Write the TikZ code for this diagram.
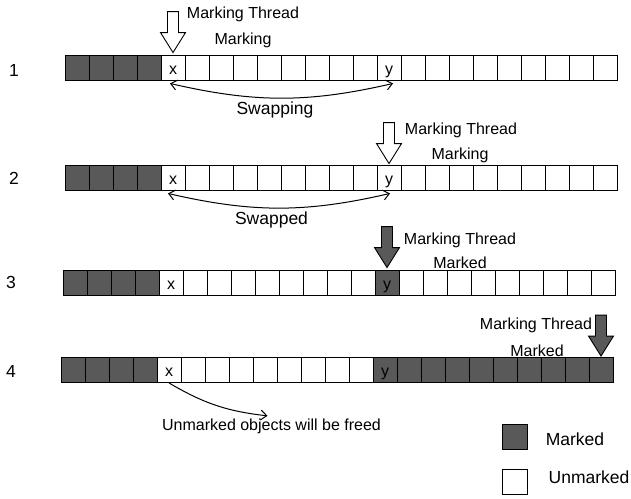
\documentclass[tikz,border=0pt]{standalone}
\usepackage{fontspec}
\setmainfont{Liberation Sans}
\usetikzlibrary{arrows.meta, positioning}
\definecolor{markgray}{RGB}{89, 89, 89}

\begin{document}
\begin{tikzpicture}[x=1pt, y=-1pt,
  cell/.style={draw=black, line width=0.9pt, minimum width=24pt, minimum height=25pt, inner sep=0pt},
  note/.style={font=\fontsize{16}{19}\selectfont, inner sep=0pt},
  big/.style={font=\fontsize{17.5}{21}\selectfont, inner sep=0pt},
  swap/.style={{Straight Barb[length=6pt,width=10pt]}-{Straight Barb[length=6pt,width=10pt]}, line width=1pt},
  pics/thread/.style={code={
    \draw[line width=0.9pt, fill=#1] (0,0) -- (-12.5,-20) -- (-5.5,-20) -- (-5.5,-41) -- (5.5,-41) -- (5.5,-20) -- (12.5,-20) -- cycle;
  }}]
  \useasboundingbox (0,0) rectangle (631,498);

  % The four heap rows
  \foreach \rw/\xo/\yc in {1/65/67.5, 2/65/177.5, 3/63/282.5, 4/61/370}
    \foreach \k in {0,...,22} {
      \pgfmathtruncatemacro\ism{(\k<4) || (\rw==3 && \k==13) || (\rw==4 && \k>12)}
      \ifnum\ism=1 \def\cellfill{markgray}\else\def\cellfill{white}\fi
      \node[cell, fill=\cellfill] (c\rw-\k) at ({\xo+24*\k+12}, \yc) {};
    }
  \foreach \rw in {1,...,4} {
    \node[note, anchor=base] (x\rw) at ([yshift=-6.5pt]c\rw-4.center) {x};
    \node[note, anchor=base] (y\rw) at ([yshift=-6.5pt]c\rw-13.center) {y};
  }

  % Row numbers
  \node[big] (n1) at (14, 70) {1};
  \node[big] (n2) at (14, 178.5) {2};
  \node[big] (n3) at (11, 282.5) {3};
  \node[big] (n4) at (11, 371.5) {4};

  % Marking thread
  \pic at ([yshift=2pt]c1-4.north) {thread=white};
  \pic at ([yshift=1pt]c2-13.north) {thread=white};
  \pic at ([yshift=2pt]c3-13.north) {thread=markgray};
  \pic at ([yshift=1pt]c4-22.north) {thread=markgray};
  \node[note] (thr1) at (243, 14) {Marking Thread};
  \node[note] (st1) at (243, 40.5) {Marking};
  \node[note] (thr2) at (461, 130) {Marking Thread};
  \node[note] (st2) at (460, 155) {Marking};
  \node[note] (thr3) at (460, 240) {Marking Thread};
  \node[note] (st3) at (460, 263) {Marked};
  \node[note] (thr4) at (536, 325) {Marking Thread};
  \node[note] (st4) at (537, 351) {Marked};

  % Swapping x and y
  \draw[swap] ([shift={(-3pt,-3pt)}]c1-4.south) to[bend right=13] ([shift={(4pt,-3pt)}]c1-13.south);
  \node[big] (swp) at (275, 110) {Swapping};
  \draw[swap] ([shift={(-5pt,-3pt)}]c2-4.south) to[bend right=13] ([shift={(1pt,-3pt)}]c2-13.south);
  \node[big] (swd) at (271.5, 219.5) {Swapped};

  % Freed objects
  \node[note] (free) at (271.5, 426.5) {Unmarked objects will be freed};
  \draw[line width=1pt, -{Straight Barb[length=6pt,width=10pt]}] (c4-4.south) to[bend right=12] ([shift={(-4pt,3pt)}]free.north);

  % Legend
  \node[cell, fill=markgray, minimum width=25pt, minimum height=24.5pt] (lgm) at (514.5, 437) {};
  \node[big] (lgmt) at (575, 439) {Marked};
  \node[cell, fill=white, minimum width=25pt, minimum height=24.5pt] (lgu) at (515, 481.7) {};
  \node[big] (lgut) at (589, 477) {Unmarked};
\end{tikzpicture}
\end{document}
